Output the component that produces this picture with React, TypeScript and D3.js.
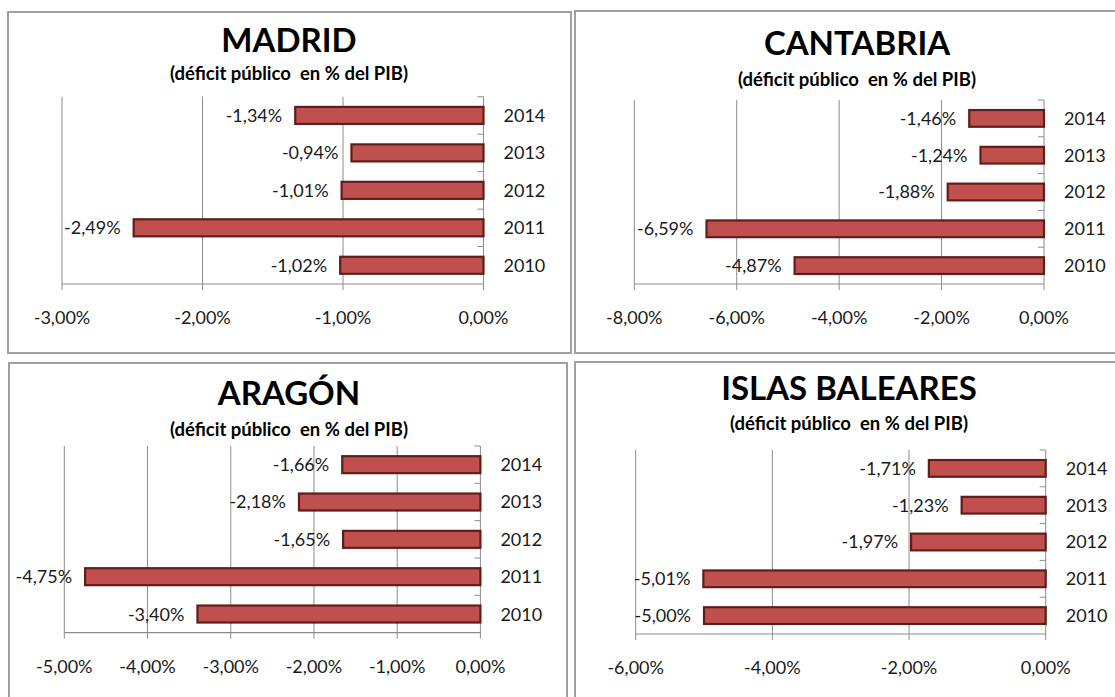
import React from "react";
import * as d3 from "d3";

const years = ["2014", "2013", "2012", "2011", "2010"];
const madridValues = [-1.34, -0.94, -1.01, -2.49, -1.02];
const cantabriaValues = [-1.46, -1.24, -1.88, -6.59, -4.87];
const aragonValues = [-1.66, -2.18, -1.65, -4.75, -3.4];
const balearesValues = [-1.71, -1.23, -1.97, -5.01, -5.0];
const madridTicks = [-3, -2, -1, 0];
const cantabriaTicks = [-8, -6, -4, -2, 0];
const aragonTicks = [-5, -4, -3, -2, -1, 0];
const balearesTicks = [-6, -4, -2, 0];
const titles = ["MADRID", "CANTABRIA", "ARAGÓN", "ISLAS BALEARES"];
const subtitle = "(déficit público  en % del PIB)";

const locale = d3.formatLocale({
  decimal: ",",
  thousands: ".",
  grouping: [3],
  currency: ["", "€"],
  minus: "-",
});
const fmt = (v: number) => locale.format(".2f")(v) + "%";

const FONT = "Lato, Carlito, 'Open Sans', sans-serif";

type Layout = {
  x: number; y: number; w: number; h: number;
  plotL: number; plotR: number; plotT: number; plotB: number;
  titleX: number; titleY: number; subY: number;
};

const layouts: Layout[] = [
  { x: 8, y: 12, w: 563, h: 341, plotL: 54, plotR: 475.5, plotT: 84.7, plotB: 272, titleX: 281, titleY: 40, subY: 68 },
  { x: 575, y: 11, w: 564, h: 342, plotL: 59.3, plotR: 469, plotT: 89, plotB: 273, titleX: 282, titleY: 44, subY: 75 },
  { x: 9, y: 363, w: 558, h: 400, plotL: 55.3, plotR: 471.4, plotT: 83, plotB: 269.7, titleX: 280, titleY: 42, subY: 73 },
  { x: 575, y: 362, w: 564, h: 400, plotL: 60.7, plotR: 470.7, plotT: 88, plotB: 272, titleX: 274, titleY: 38, subY: 68 },
];

const panelValues = [madridValues, cantabriaValues, aragonValues, balearesValues];
const panelTicks = [madridTicks, cantabriaTicks, aragonTicks, balearesTicks];

function Panel({ idx }: { idx: number }) {
  const L = layouts[idx];
  const values = panelValues[idx];
  const ticks = panelTicks[idx];
  const x = d3.scaleLinear().domain([ticks[0], 0]).range([L.plotL, L.plotR]);
  const y = d3.scaleBand<string>().domain(years).range([L.plotT, L.plotB]).padding(0);
  const step = y.step();
  const barH = step / 2.2;
  const grid = "#8c8c8c";
  return (
    <g transform={`translate(${L.x},${L.y})`}>
      <rect x={0} y={0} width={L.w} height={L.h} fill="#fff" stroke="#a0a0a0" strokeWidth={2} />
      <text x={L.titleX} y={L.titleY} textAnchor="middle" fontFamily={FONT} fontWeight={700} fontSize={33} fill="#000">
        {titles[idx]}
      </text>
      <text x={L.titleX} y={L.subY} textAnchor="middle" fontFamily={FONT} fontWeight={700} fontSize={18.5} fill="#000" style={{ whiteSpace: "pre" }}>
        {subtitle}
      </text>
      {ticks.map((t) => (
        <line key={"g" + t} x1={x(t)} x2={x(t)} y1={L.plotT} y2={L.plotB + 6} stroke={grid} strokeWidth={1} />
      ))}
      <line x1={L.plotL} x2={L.plotR} y1={L.plotB} y2={L.plotB} stroke={grid} strokeWidth={1.2} />
      {years.map((yr) => (
        <line key={"t" + yr} x1={x(0) - 6} x2={x(0)} y1={y(yr)!} y2={y(yr)!} stroke={grid} strokeWidth={1} />
      ))}
      {years.map((yr, i) => {
        const v = values[i];
        const cy = y(yr)! + step / 2;
        return (
          <g key={"b" + yr}>
            <rect x={x(v)} y={cy - barH / 2} width={x(0) - x(v)} height={barH} fill="#c0504d" stroke="#5e1e1c" strokeWidth={2.2} />
            <text x={x(v) - 13} y={cy} dy="0.36em" textAnchor="end" fontFamily={FONT} fontSize={18} fill="#1a1a1a">
              {fmt(v)}
            </text>
            <text x={x(0) + 20} y={cy} dy="0.36em" textAnchor="start" fontFamily={FONT} fontSize={18} fill="#1a1a1a">
              {yr}
            </text>
          </g>
        );
      })}
      {ticks.map((t) => (
        <text key={"l" + t} x={x(t)} y={L.plotB + 34} dy="0.36em" textAnchor="middle" fontFamily={FONT} fontSize={18} fill="#1a1a1a">
          {fmt(t)}
        </text>
      ))}
    </g>
  );
}

export default function App() {
  return (
    <svg width={1115} height={697} style={{ position: "absolute", left: 0, top: 0, background: "#fff" }}>
      <rect x={0} y={0} width={1115} height={697} fill="#fff" />
      {layouts.map((_, i) => (
        <Panel key={i} idx={i} />
      ))}
    </svg>
  );
}
